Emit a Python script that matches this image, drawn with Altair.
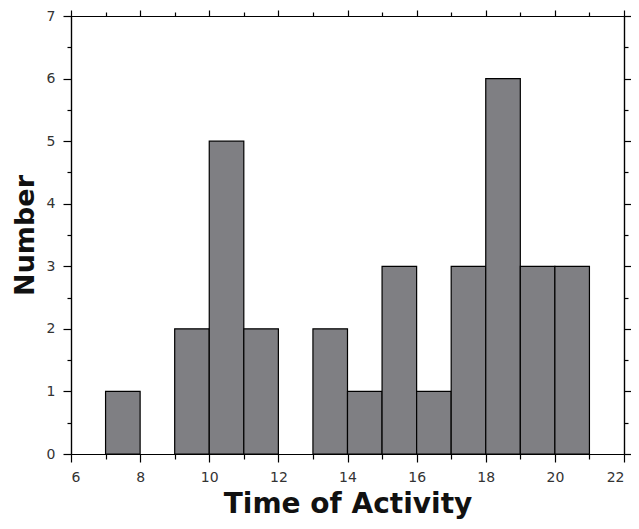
import altair as alt
import pandas as pd

bin_start = [7, 8, 9, 10, 11, 12, 13, 14, 15, 16, 17, 18, 19, 20]
counts = [1, 0, 2, 5, 2, 0, 2, 1, 3, 1, 3, 6, 3, 3]
x_major = [6, 8, 10, 12, 14, 16, 18, 20, 22]
x_minor = [7, 9, 11, 13, 15, 17, 19, 21]
y_major = [0, 1, 2, 3, 4, 5, 6, 7]
y_minor = [0.5, 1.5, 2.5, 3.5, 4.5, 5.5, 6.5]

df = pd.DataFrame({"start": bin_start, "end": [s + 1 for s in bin_start], "count": counts})
df = df[df["count"] > 0]

xs = alt.Scale(domain=[6, 22], nice=False, zero=False)
ys = alt.Scale(domain=[0, 7], nice=False)

FONT = "DejaVu Sans"

def ax(orient, values, size, labels, title=None, **kw):
    args = dict(orient=orient, values=values, tickSize=size, labels=labels, grid=False,
                domain=True, domainColor="black", tickColor="black", tickWidth=1.2,
                domainWidth=1.2, title=title)
    args.update(kw)
    return alt.Axis(**args)

base = alt.Chart(df)

bars = base.mark_rect(fill="#7f7f83", stroke="black", strokeWidth=1.2).encode(
    x=alt.X("start:Q", scale=xs,
            axis=ax("bottom", x_major, 8, True, "Time of Activity",
                    labelFont=FONT, labelFontSize=14, labelColor="#333",
                    labelPadding=8, titleFont=FONT, titleFontSize=28,
                    titleFontWeight="bold", titleColor="#111", titlePadding=6)),
    x2="end:Q",
    y=alt.Y("count:Q", scale=ys,
            axis=ax("left", y_major, 8, True, "Number",
                    labelFont=FONT, labelFontSize=14, labelColor="#333",
                    labelPadding=8, titleFont=FONT, titleFontSize=27,
                    titleFontWeight="bold", titleColor="#111", titlePadding=7)),
    y2=alt.datum(0),
)

def ghost(xorient, xvals, xsize, yorient, yvals, ysize):
    return base.mark_rect(opacity=0).encode(
        x=alt.X("start:Q", scale=xs, axis=ax(xorient, xvals, xsize, False)),
        x2="end:Q",
        y=alt.Y("count:Q", scale=ys, axis=ax(yorient, yvals, ysize, False)),
        y2=alt.datum(0),
    )

l2 = ghost("bottom", x_minor, 5, "left", y_minor, 4)
l3 = ghost("top", x_major, 6, "right", y_major, 7)
l4 = ghost("top", x_minor, 4, "right", y_minor, 4)

chart = alt.layer(bars, l2, l3, l4).resolve_axis(x="independent", y="independent").properties(
    width=553, height=438,
    autosize=alt.AutoSizeParams(type="none"),
    padding={"left": 63, "top": 8, "right": 7, "bottom": 67},
).configure_view(stroke="black", strokeWidth=1.2).configure(background="white")

chart.save("out.html", embed_options={"renderer": "svg", "actions": False})
